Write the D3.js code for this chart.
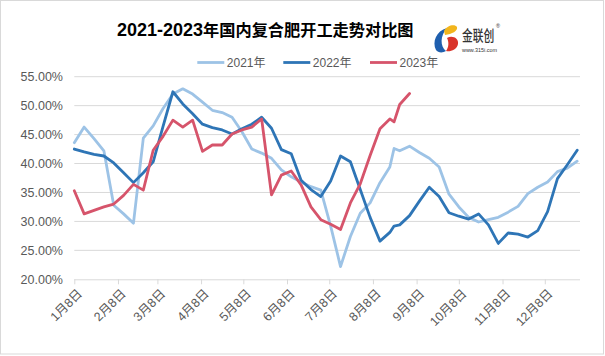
<!DOCTYPE html>
<html><head><meta charset="utf-8">
<script src="https://cdn.jsdelivr.net/npm/d3@7/dist/d3.min.js"></script>
<style>
html,body{margin:0;padding:0;background:#fff;}
svg{display:block;font-family:"Liberation Sans",Arial,"Noto Sans CJK SC",sans-serif;}
</style></head>
<body><svg id="c" width="605" height="356"></svg>
<script>
// ---- data ----
const dates = ["01-08","01-15","01-22","01-29","02-05","02-12","02-19","02-26","03-05","03-12",
  "03-19","03-26","04-02","04-09","04-16","04-23","04-30","05-07","05-14","05-21",
  "05-28","06-04","06-11","06-18","06-25","07-02","07-09","07-16","07-23","07-30",
  "08-06","08-13","08-20","08-23","08-27","09-03","09-10","09-17","09-24","10-01",
  "10-08","10-15","10-22","10-29","11-05","11-12","11-19","11-26","12-03","12-10",
  "12-17","12-24","12-31"];
const s2021 = [43.6,46.3,44.3,42.2,32.8,31.3,29.7,44.4,46.5,49.5,
  52.0,52.9,52.0,50.6,49.2,48.8,48.0,45.5,42.5,41.8,
  40.9,38.9,37.7,36.8,36.0,35.4,29.2,22.2,27.4,31.4,
  33.2,36.7,39.4,42.6,42.2,43.0,41.9,40.9,39.4,34.7,
  32.5,30.7,29.9,30.3,30.7,31.6,32.6,34.8,35.9,36.8,
  38.6,39.2,40.4];
const s2022 = [42.5,42.0,41.6,41.3,40.1,38.4,36.7,38.4,40.3,46.4,
  52.4,50.3,48.6,46.8,46.2,45.8,45.1,46.0,46.8,48.0,
  46.1,42.4,41.7,37.1,35.5,34.3,37.0,41.3,40.3,35.5,
  30.7,26.6,28.1,29.2,29.4,31.0,33.5,35.9,34.3,31.5,
  30.9,30.4,31.3,29.4,26.2,28.0,27.8,27.3,28.4,31.7,
  37.4,39.8,42.3];
const s2023 = [35.3,31.3,31.9,32.5,33.0,34.5,36.4,35.4,42.3,44.7,
  47.5,46.3,47.5,42.1,43.2,43.2,45.1,45.8,46.3,47.7,
  34.6,38.0,38.7,36.3,32.5,30.3,29.5,28.6,33.2,36.5,
  41.4,46.0,47.7,47.2,50.2,52.1];
const seriesNames = ["2021年","2022年","2023年"];
const seriesColors = ["#9DC3E6","#2E75B6","#D6546B"];
const yTicks = [20,25,30,35,40,45,50,55];
const xTickLabels = ["1月8日","2月8日","3月8日","4月8日","5月8日","6月8日","7月8日","8月8日","9月8日","10月8日","11月8日","12月8日"];
const xTickDates = ["01-08","02-08","03-08","04-08","05-08","06-08","07-08","08-08","09-08","10-08","11-08","12-08"];
const titleNum = "2021-2023";
const titleCn = "年国内复合肥开工走势对比图";

// ---- drawing ----
const svg = d3.select("#c");
const parse = s => { const [m,d] = s.split("-").map(Number); return new Date(2021, m-1, d); };
const x = d3.scaleTime().domain([new Date(2021,0,8), new Date(2022,0,2)]).range([74.3, 580]);
const y = d3.scaleLinear().domain([20,55]).range([279.3, 76.7]);

svg.append("rect").attr("x",0.5).attr("y",0.5).attr("width",603).attr("height",353.5)
  .attr("fill","#fff").attr("stroke","#d9d9d9");

// title
const t = svg.append("text").attr("x",117).attr("y",36).attr("font-weight","bold").attr("fill","#000");
t.append("tspan").attr("font-size","18px").attr("font-family","'Liberation Sans',Arial,sans-serif").text(titleNum);
t.append("tspan").attr("font-size","16.2px").attr("font-family","'Noto Sans CJK SC',sans-serif").text(titleCn);

// logo
const lg = svg.append("g");
lg.append("path").attr("d","M447,28 C436,31 432,42 436,50 C438,53 443,53 446,51 C440,46 440,36 447,28 Z").attr("fill","#1f5fae");
lg.append("path").attr("d","M444,31 C447,25 455,24 457,27 C458,31 452,34 445,35 Z").attr("fill","#f2b51c");
lg.append("path").attr("d","M447,38 C452,35 459,38 458,44 C457,50 450,52 446,51 C449,47 449,42 447,38 Z").attr("fill","#d9342b");
lg.append("text").attr("transform","translate(462,40.5) scale(0.72,1)").attr("font-size","15px").attr("fill","#333")
  .attr("font-weight","500").attr("font-family","'Noto Sans CJK SC',sans-serif").text("金联创");
lg.append("text").attr("x",496).attr("y",28).attr("font-size","5.5px").attr("fill","#333").text("®");
lg.append("text").attr("x",462).attr("y",51.5).attr("font-size","6px").attr("textLength",35)
  .attr("lengthAdjust","spacingAndGlyphs").attr("fill","#333").text("www.315i.com");

// gridlines
svg.append("g").selectAll("line").data(yTicks.filter(v=>v>20)).join("line")
  .attr("x1",74.3).attr("x2",580).attr("y1",d=>y(d)).attr("y2",d=>y(d))
  .attr("stroke","#d9d9d9").attr("stroke-width",1);

// y axis labels
svg.append("g").selectAll("text").data(yTicks).join("text")
  .attr("x",63).attr("y",d=>y(d)).attr("dy","0.35em").attr("text-anchor","end")
  .attr("font-size","12.5px").attr("fill","#595959").text(d=>d.toFixed(2)+"%");

// x axis
const xAxis = d3.axisBottom(x).tickValues(xTickDates.map(parse)).tickSize(5)
  .tickFormat((d,i)=>xTickLabels[i]);
const gx = svg.append("g").attr("transform","translate(0,279.3)").call(xAxis);
gx.select(".domain").attr("stroke","#d9d9d9").attr("d","M74.3,0.5H580");
gx.selectAll(".tick line").attr("stroke","#d9d9d9");
gx.selectAll(".tick text").attr("font-size","12.5px").attr("fill","#595959")
  .attr("font-family","'Liberation Sans',Arial,'Noto Sans CJK SC',sans-serif")
  .attr("text-anchor","end").attr("dy","0.35em").attr("y",0)
  .attr("transform","translate(5,12) rotate(-45)");

// lines
const all = [s2021, s2022, s2023];
const line = d3.line().defined(d=>d[1]!=null).x(d=>x(parse(d[0]))).y(d=>y(d[1]));
all.forEach((s,i)=>{
  const pts = dates.map((d,j)=>[d, j<s.length ? s[j] : null]);
  svg.append("path").datum(pts).attr("d",line).attr("fill","none")
    .attr("stroke",seriesColors[i]).attr("stroke-width",2.8)
    .attr("stroke-linejoin","round").attr("stroke-linecap","round");
});

// legend
const legX = [197.3, 283.3, 370];
seriesNames.forEach((n,i)=>{
  svg.append("line").attr("x1",legX[i]).attr("x2",legX[i]+27).attr("y1",62.5).attr("y2",62.5)
    .attr("stroke",seriesColors[i]).attr("stroke-width",2.8);
  svg.append("text").attr("x",legX[i]+29.5).attr("y",62.5).attr("dy","0.35em")
    .attr("font-size","12px").attr("fill","#595959").text(n);
});
</script></body></html>
